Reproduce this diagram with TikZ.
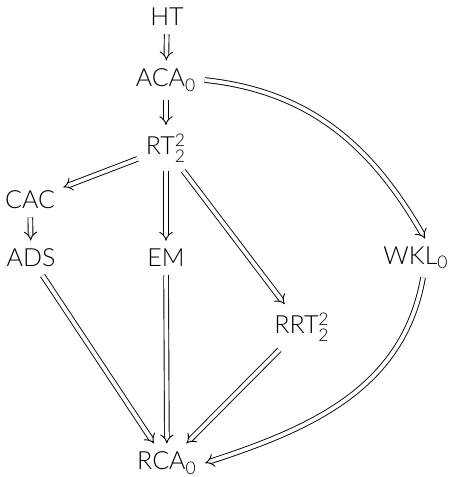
\documentclass[tikz,border=0pt]{standalone}
\usepackage{amsmath}
\usepackage{fontspec}
\setmainfont{Lato Light}
\usepackage{tikz}
\usetikzlibrary{arrows.meta}

\begin{document}
\begin{tikzpicture}[x=0.5pt,y=-0.5pt,
    every node/.style={font=\fontsize{12.5}{15}\selectfont, inner sep=4pt},
    imp/.style={double, double distance=1.9pt, line width=0.45pt, -{Implies[scale=1.7]}}]
    \useasboundingbox (0,0) rectangle (467,477);

    % principles
    \node (ht)  at (167,17)  {HT};
    \node (aca) at (166,80)  {ACA$_{\text{0}}$};
    \node (rt)  at (166,148) {RT$^{\text{2}}_{\text{2}}$};
    \node (cac) at (30,200)  {CAC};
    \node (ads) at (31,258)  {ADS};
    \node (em)  at (166,258) {EM};
    \node (wkl) at (416,258) {WKL$_{\text{0}}$};
    \node (rrt) at (302,327) {RRT$^{\text{2}}_{\text{2}}$};
    \node (rca) at (167,463) {RCA$_{\text{0}}$};

    % implications
    \draw[imp] (ht) -- (aca);
    \draw[imp] (aca) -- (rt);
    \draw[imp] (rt) -- (cac);
    \draw[imp] (cac) -- (ads);
    \draw[imp] (rt) -- (em);
    \draw[imp] (rt) -- (rrt);
    \draw[imp] (aca.east) to[out=-6,in=120] (wkl.65);
    \draw[imp] (ads) -- (rca);
    \draw[imp] (em) -- (rca);
    \draw[imp] (rrt) -- (rca);
    \draw[imp] (wkl.-70) to[out=-100,in=18] (rca.east);
\end{tikzpicture}
\end{document}
